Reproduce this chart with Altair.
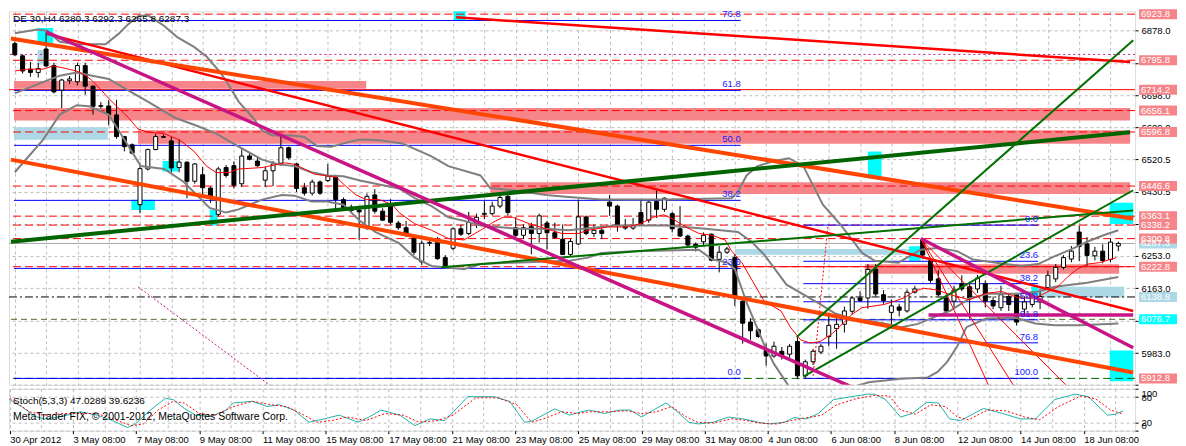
import json
import altair as alt
import pandas as pd

FONT = "Liberation Sans"
W, H, HS = 1128, 374, 42
XD = [-0.1, 142.5]
YD = [5895.2, 6931.5]

# ---------------- candles (H4 bars, index 0..141) ----------------
OPEN = [6842,6808,6771,6762,6827,6781,6713,6739,6736,6781, 6724,6668,6669,6644,6584,6561,6395,6494,6548,6582,
        6572,6498,6513,6460,6478,6441,6368,6498,6503,6453, 6530,6516,6463,6489,6510,6553,6508,6442,6427,6458,
        6462,6471,6409,6388,6380,6333,6422,6377,6391,6344, 6331,6302,6236,6288,6290,6248,6274,6328,6315,6341,
        6368,6370,6391,6418,6331,6310,6334,6315,6344,6317, 6299,6257,6286,6361,6315,6324,6402,6391,6337,6330,
        6373,6352,6404,6382,6370,6328,6308,6285,6292,6313, 6243,6263,6248,6127,6069,6048,5990,5975,5988,5980,
        6015,5920,5959,5986,6029,6051,6063,6099,6136,6136, 6216,6145,6096,6111,6100,6152,6297,6239,6189,6136,
        6127,6176,6167,6161,6176,6129,6109,6140,6145,6105, 6118,6125,6165,6189,6221,6244,6319,6286,6253,6266,
        6243,6280.3]
HIGH = [6848,6812,6791,6788,6873,6789,6744,6752,6789,6789, 6726,6680,6686,6686,6586,6565,6503,6550,6592,6590,
        6583,6576,6515,6510,6500,6445,6500,6505,6515,6549, 6538,6525,6500,6516,6588,6556,6511,6455,6465,6462,
        6508,6478,6415,6395,6390,6426,6438,6385,6410,6350, 6350,6305,6295,6296,6305,6255,6332,6340,6375,6370,
        6405,6403,6425,6428,6360,6340,6345,6370,6350,6345, 6340,6300,6409,6365,6340,6335,6422,6395,6355,6358,
        6410,6405,6435,6415,6375,6391,6312,6290,6318,6315, 6280,6278,6258,6140,6080,6052,6010,6015,6000,6008,
        6029,5965,5995,6008,6092,6085,6112,6140,6155,6230, 6230,6158,6132,6120,6160,6170,6301,6248,6213,6145,
        6170,6199,6175,6200,6185,6140,6170,6150,6150,6140, 6150,6160,6212,6230,6255,6280,6337,6305,6278,6285,
        6300,6292.3]
LOW = [6808,6759,6750,6748,6778,6704,6663,6730,6726,6700, 6645,6662,6615,6578,6543,6535,6371,6490,6546,6580,
       6484,6485,6413,6453,6420,6400,6362,6470,6440,6444, 6518,6500,6444,6447,6503,6520,6430,6420,6420,6422,
       6458,6380,6380,6370,6297,6325,6370,6350,6340,6325, 6305,6255,6228,6280,6242,6218,6268,6308,6310,6330,
       6355,6365,6385,6365,6303,6300,6257,6290,6270,6300, 6255,6250,6283,6310,6305,6300,6364,6320,6325,6325,
       6340,6345,6358,6375,6318,6305,6275,6265,6280,6238, 6207,6258,6114,6009,6020,6025,5948,5970,5965,5970,
       5912,5912,5950,5980,6002,5995,6040,6090,6125,6106, 6140,6120,6057,6085,6095,6148,6245,6178,6140,6090,
       6110,6155,6079,6150,6110,6105,6100,6100,6060,6085, 6110,6105,6160,6180,6215,6235,6238,6225,6240,6232,
       6235,6265.8]
CLOSE = [6811,6766,6762,6773,6780,6708,6741,6744,6781,6724, 6668,6670,6645,6584,6556,6538,6495,6548,6584,6584,
         6497,6513,6460,6508,6442,6418,6494,6476,6449,6530, 6521,6503,6489,6508,6553,6525,6440,6427,6458,6427,
         6474,6409,6386,6379,6375,6418,6377,6352,6346,6331, 6315,6263,6288,6290,6245,6225,6328,6313,6346,6360,
         6371,6391,6415,6373,6310,6331,6315,6364,6317,6304, 6257,6293,6361,6315,6324,6315,6391,6337,6330,6337,
         6342,6402,6382,6413,6328,6308,6283,6277,6310,6241, 6263,6272,6136,6066,6045,6029,5975,6002,5977,6002,
         5920,5959,5988,6002,6060,6063,6100,6136,6129,6215, 6147,6129,6114,6102,6152,6161,6255,6185,6145,6100,
         6158,6161,6136,6191,6127,6114,6145,6118,6069,6125, 6140,6140,6199,6221,6248,6266,6279,6254,6266,6240,
         6291,6287.3]

DATES = ['30 Apr 2012','3 May 08:00','7 May 08:00','9 May 08:00','11 May 08:00','15 May 08:00',
         '17 May 08:00','21 May 08:00','23 May 08:00','25 May 08:00','29 May 08:00','31 May 08:00',
         '4 Jun 08:00','6 Jun 08:00','8 Jun 08:00','12 Jun 08:00','14 Jun 08:00','18 Jun 08:00']
PRICE_TICKS = [6878.0, 6788.5, 6698.0, 6609.0, 6520.5, 6430.5, 6341.0, 6253.0, 6163.0, 6073.0, 5983.0, 5895.5]
HIDDEN_TICKS = [6788.5, 6341.0, 6073.0]
STOCH_TICKS = [0, 20, 80, 100]

# ---------------- indicator lines (bar, price) ----------------
BB_UPPER = [(0,6871),(2.9,6881),(4.1,6878),(5.75,6847),(7.9,6840),(11.6,6840),(13.25,6869),(14.5,6896),(15.75,6918),
            (17,6921),(19.1,6891),(20.75,6860),(22.9,6833),(24.5,6806),(26.1,6766),(27,6739),(28.6,6681),(30.4,6637),
            (31.6,6601),(32.9,6587),(35.4,6587),(37,6583),(38.6,6558),(40.4,6556),(42.9,6570),(44.1,6576),(46.6,6574),
            (49.5,6565),(53.25,6529),(55.4,6502),(59.5,6476),(60.75,6441),(63.6,6435),(67.9,6422),(70.4,6417),(74.9,6409),
            (83.25,6409),(91.6,6413),(92.4,6431),(93.5,6476),(94.9,6502),(97,6516),(98.9,6524),(100.75,6502),(103.25,6395),
            (105.4,6342),(107,6297),(108.25,6261),(109.9,6239),(112.9,6234),(115.75,6270),(117.9,6275),(120.4,6266),
            (122.4,6243),(126.6,6230),(128.6,6225),(130.75,6230),(132.9,6252),(134.9,6270),(137,6292),(139.1,6310),(141,6324)]
BB_MIDDLE = [(0,6704),(3.6,6735),(5.75,6753),(7.9,6762),(9.9,6753),(12,6744),(14.1,6717),(17,6681),(20.4,6637),(23.25,6614),
             (25.75,6592),(28.6,6556),(31.6,6520),(33.6,6507),(35.75,6502),(37.9,6485),(39.9,6476),(42,6474),(44.1,6462),
             (46.1,6453),(49.1,6440),(51.1,6413),(53.25,6391),(55.4,6360),(57.4,6350),(59.5,6337),(61.6,6333),(64.5,6328),
             (67.9,6328),(70.75,6324),(74.9,6333),(77,6337),(83.25,6337),(88.25,6328),(92.4,6319),(94.1,6293),(95.75,6256),
             (98.6,6173),(102.9,6119),(104.9,6092),(107,6079),(111.1,6065),(113.25,6055),(115.4,6064),(117.9,6087),
             (119.5,6100),(122,6135),(124.5,6148),(128.25,6148),(130.75,6154),(132.9,6167),(137,6178),(141,6194)]
BB_LOWER = [(0,6485),(3.6,6575),(5.75,6645),(7.9,6671),(9.5,6668),(12,6645),(16.1,6502),(19.1,6494),(21.6,6458),(24.9,6386),
            (27,6373),(28.6,6382),(31.6,6409),(34.1,6422),(35.75,6420),(37.9,6404),(39.9,6404),(42,6395),(43.25,6368),
            (44.1,6350),(46.1,6319),(49.1,6288),(51.1,6248),(53.25,6225),(57.4,6216),(59.5,6230),(63.6,6234),(70.75,6239),
            (73.25,6248),(74.9,6261),(79.1,6266),(87.4,6270),(89.1,6243),(91.1,6234),(92,6216),(93.6,6118),(95.75,6006),
            (97,5953),(98.9,5891),(102.9,5860),(105,5864),(107,5888),(109.1,5902),(113.25,5912),(116.6,5915),(117.9,5931),
            (119.1,5958),(120.4,6001),(121.6,6055),(124.1,6079),(127.9,6081),(130.4,6065),(132.9,6060),(136.1,6060),(141,6065)]
MA_FAST = [(0,6766),(1.6,6771),(3.6,6771),(4.9,6780),(6.1,6775),(7.9,6766),(9.1,6753),(9.9,6739),(11.1,6712),(12,6690),
           (13.25,6663),(14.5,6637),(15.75,6605),(17,6596),(19.1,6592),(21.1,6574),(22.9,6543),(24.5,6502),(25.75,6484),
           (27.4,6484),(28.6,6494),(31.6,6498),(34.5,6511),(35.75,6507),(37,6494),(38.25,6480),(41.1,6471),(42.4,6444),
           (43.6,6422),(44.9,6409),(46.6,6409),(48.25,6395),(49.1,6373),(51.1,6342),(53.25,6324),(55.4,6301),(57.4,6297),
           (59.5,6324),(61.1,6346),(62.4,6360),(63.6,6360),(65.75,6342),(67.9,6328),(69.9,6315),(72,6315),(73.25,6324),
           (75.75,6333),(78.25,6333),(79.9,6342),(81.6,6360),(82.9,6367),(84.1,6355),(85.75,6333),(87.4,6315),(89.1,6310),
           (90.75,6297),(91.6,6266),(92.9,6234),(94.1,6189),(95.75,6127),(97.9,6100),(99.1,6055),(100.4,6020),(101.6,6011),
           (102.9,6015),(104.5,6038),(105.75,6064),(107,6091),(108.25,6109),(111.1,6118),(112.4,6127),(113.6,6136),
           (114.9,6154),(116.1,6163),(117.9,6158),(119.5,6145),(122,6131),(124.1,6149),(126.1,6154),(128.25,6136),
           (130.4,6136),(131.6,6149),(133.25,6167),(134.5,6194),(135.75,6216),(137,6230),(138.6,6234),(140.75,6248)]

# ---------------- drawn trend lines (bar, price) ----------------
RED_TRENDS = {"a1": [(4.1,6869),(142.9,6100)], "a2": [(56.4,6915),(142.5,6791)]}
ORANGE_TRENDS = {"b1": [(-0.5,6856),(142.9,6356)], "b2": [(-0.5,6520),(142.9,5929)]}
GREEN_THICK = {"c1": [(-0.5,6292),(142.5,6596)]}
GREEN_MED = {"c2": [(54.5,6221),(142.9,6379)], "c3a": [(99.9,6028),(142.9,6851)], "c3b": [(100.75,5918),(142.9,6435)]}
MAGENTA_TRENDS = {"d1": [(4,6875),(107.25,5886)], "d2": [(115.75,6301),(142.9,5998)], "d3": [(116.75,6089),(142.9,6089)]}
RED_FAN = {"f1": [(115.9,6296),(124.5,5890)], "f2": [(115.9,6296),(127.7,5890)], "f3": [(115.9,6296),(134.5,5890)]}
RED_DOTTED = {"g1": [(102,5920),(103.9,6338)]}
MAGENTA_DOTTED = {"h1": [(15.75,6167),(33.75,5875)]}

# ---------------- horizontal levels ----------------
RED_DASHED_LEVELS = [6923.8, 6795.8, 6656.1, 6596.8, 6446.6, 6363.1, 6338.2, 6300.8, 6222.8]
RED_SOLID_LEVELS = [6714.2]
CURRENT_PRICE = [6287.3]
DASHDOT_LEVELS = [6138.8]
OLIVE_LEVELS = [6076.7]
GREEN_LEVELS = [5912.8]
MAGENTA_DOT_LEVELS = [6812.0]
RED_SOLID_SEG = [(91.6, 142.5, 6222.8)]

# Fibonacci retracements: (start bar, end bar, level price, label)
FIB1 = [(-0.1, 92.75, 5912.8, "0.0"), (-0.1, 92.75, 6218.1, "23.6"), (-0.1, 92.75, 6406.9, "38.2"),
        (-0.1, 92.75, 6559.6, "50.0"), (-0.1, 92.75, 6712.2, "61.8"), (-0.1, 92.75, 6906.2, "76.8")]
FIB2 = [(100.75, 130.75, 6338.2, "0.0"), (100.75, 130.75, 6237.8, "23.6"), (100.75, 130.75, 6175.7, "38.2"),
        (100.75, 130.75, 6125.5, "50.0"), (100.75, 130.75, 6075.3, "61.8"), (100.75, 130.75, 6011.5, "76.8"),
        (100.75, 130.75, 5912.8, "100.0")]

# ---------------- rectangles: (bar1, bar2, price1, price2, kind) ----------------
RECTS = [(-0.1,44.9,6717,6738.5,"pink"), (-0.1,142.5,6628.5,6663.4,"pink"), (15.75,142.5,6564.2,6601.7,"pink"),
         (60.75,142.5,6424.7,6456.9,"pink"), (108.6,141.1,6202.9,6229.7,"pink"),
         (-0.1,11.9,6574.9,6609.8,"lightblue"), (2.9,3.6,6784.1,6824.3,"lightblue"),
         (92,114.9,6255.7,6271.8,"lightblue"), (129.9,141.75,6137.7,6167.2,"lightblue"),
         (2.9,4.9,6842.3,6885.2,"cyan"), (14.9,17.9,6379.9,6408.6,"cyan"), (18.9,20.9,6487.2,6515.9,"cyan"),
         (24.9,25.9,6337,6381.8,"cyan"), (56.1,57.6,6907.5,6935,"cyan"), (109,110.75,6467.6,6542.7,"cyan"),
         (114.25,115.75,6239.6,6279.9,"cyan"), (139.9,142.9,6341.6,6400.6,"cyan"),
         (139.9,142.9,5905,5990.2,"cyan"), (129.9,130.75,6137.7,6167.2,"cyan")]

# ---------------- right-side price labels ----------------
PRICE_LABELS = [(6923.8,"res"),(6795.8,"res"),(6714.2,"res"),(6656.1,"res"),(6596.8,"res"),(6446.6,"res"),
                (6363.1,"res"),(6338.2,"res"),(6287.3,"cur"),(6300.8,"res"),(6222.8,"res"),(6138.8,"cur"),
                (6076.7,"olive"),(5912.8,"green")]

# ---------------- stochastic (bar, value) ----------------
STOCH_MAIN = [(-0.4,78),(1.5,57.5),(3.2,34),(4.4,28),(6.3,32.5),(9,45),(11.1,36.7),(13,24),(14.9,7.5),(15.9,16),
              (17.8,49),(19.7,77),(20.7,74),(22.1,53),(23.5,37),(25.5,34),(27.4,49),(28.3,66),(30.7,70),(32.6,57.5),
              (34.1,62),(36,49),(37.9,20),(39.8,28),(41.7,37),(44.1,20),(45.5,32.5),(47,49),(49.4,37),(51.3,12),
              (53.2,28),(55.1,24),(58,81),(61.3,81),(63.3,70),(65.2,20),(66.1,22.5),(69,52),(70.9,37),(72.3,45),
              (73.4,49),(75.3,41),(77.2,49),(78.6,49),(80,32.5),(81.5,49),(83.1,66),(84.3,49),(86,20),(87.2,16),
              (89.1,20),(91,32.5),(92.9,28),(94.8,20),(96.2,16),(98.1,20),(99.3,31),(100.9,28),(102.4,41),(104.3,74),
              (106.6,81),(108.6,87),(109.5,87),(110.9,74),(112.8,32.5),(114.3,41),(116.1,67.5),(117.6,66),(119,28),
              (120.4,24),(123.3,53),(125.7,41),(128,28),(129.9,28),(132.3,74),(134.9,87),(136.6,81),(139,37),(140,39),(141,47)]
STOCH_SIGNAL = [(-0.4,82.5),(2.5,45),(4.4,36.7),(6.8,40.8),(9.2,40.8),(11.1,40.8),(13,28.3),(15.4,11.7),(16.9,15.8),
                (18.8,49.2),(20.7,70),(22.1,65.8),(24,40.8),(26,36.7),(28.3,57.5),(30.7,70),(33.1,61.7),(35,57.5),
                (36.9,40.8),(38.9,20),(40.8,24.2),(42.7,32.5),(45.1,24.2),(47.5,40.8),(49.9,36.7),(51.8,20),(54.2,24.2),
                (56.1,36.7),(59,78.3),(61.8,78.3),(64.2,61.7),(66.1,20),(67.6,28.3),(69.9,45),(71.9,40.8),(73.4,45),
                (75.7,45),(78.1,47.5),(80,40.8),(81.9,45),(83.8,57.5),(85.7,32.5),(87.1,20),(89.1,18.3),(91.4,28.3),
                (93.3,24.2),(95.2,17.5),(97.1,15.8),(99,24.2),(100.9,30.8),(102.8,36.7),(104.7,61.7),(107.1,75.8),
                (109.5,84.2),(111.4,82.5),(112.8,49.2),(114.7,39.2),(116.6,61.7),(118.5,57.5),(120,32.5),(121.4,25.8),
                (123.8,49.2),(126.1,47.5),(128.5,32.5),(130.4,25.8),(132.8,57.5),(135.6,82.5),(137.5,75.8),(139.4,49.2),(141,39.6)]

HEADER = "DE 30,H4  6280.3 6292.3 6265.8 6287.3"
STOCH_TITLE = "Stoch(5,3,3) 47.0289 39.6236"
COPYRIGHT = "MetaTrader FIX, \u00a9 2001-2012, MetaQuotes Software Corp."

# ---------------- build frames ----------------
def lines_df(d):
    rows = []
    for name, pts in d.items():
        for i, (b, p) in enumerate(pts):
            rows.append({"id": name, "i": i, "b": b, "p": p})
    return pd.DataFrame(rows)

candles = pd.DataFrame({"b": list(range(len(OPEN))), "o": OPEN, "h": HIGH, "l": LOW, "c": CLOSE})
rects = pd.DataFrame(RECTS, columns=["b1", "b2", "p1", "p2", "kind"])
fib = pd.DataFrame(FIB1 + FIB2, columns=["b1", "b2", "p", "t"])
labels = pd.DataFrame(PRICE_LABELS, columns=["p", "kind"])
labels["t"] = labels["p"].map(lambda v: f"{v:.1f}")

GRID = "#bdbdbd"
xs = alt.Scale(domain=XD, nice=False, zero=False)
ys = alt.Scale(domain=YD, nice=False, zero=False)
xax = alt.Axis(values=list(range(0, 143, 4)), grid=True, gridColor=GRID, gridDash=[3, 3], labels=False,
               ticks=False, domain=False, title=None, minExtent=0, maxExtent=0, offset=0)
hidden_expr = "indexof(" + json.dumps(HIDDEN_TICKS) + ", datum.value) >= 0 ? '' : format(datum.value, '.1f')"
yax = alt.Axis(orient="right", values=PRICE_TICKS, labelExpr=hidden_expr, grid=True, gridColor=GRID,
               gridDash=[3, 3], labelFont=FONT, labelFontSize=9.5, labelColor="black", tickColor="black",
               tickSize=3, domain=False, title=None, labelPadding=3, labelFlush=True, labelOverlap=False)

def X(f):
    return alt.X(f, type="quantitative", scale=xs, axis=xax)

def Y(f):
    return alt.Y(f, type="quantitative", scale=ys, axis=yax)

def trend(d, color, width, dash=None):
    kw = dict(color=color, strokeWidth=width, clip=True)
    if dash:
        kw["strokeDash"] = dash
    return alt.Chart(lines_df(d)).mark_line(**kw).encode(x=X("b"), y=Y("p"), detail="id:N", order="i:Q")

def hlevels(vals, color, width, dash=None):
    kw = dict(color=color, strokeWidth=width, clip=True)
    if dash:
        kw["strokeDash"] = dash
    return alt.Chart(pd.DataFrame({"p": vals})).mark_rule(**kw).encode(y=Y("p"))

rect_layer = alt.Chart(rects).mark_rect(clip=True).encode(
    x=X("b1"), x2="b2", y=Y("p1"), y2="p2",
    color=alt.Color("kind:N", scale=alt.Scale(domain=["pink", "lightblue", "cyan"],
                                              range=["#F6858A", "#ADD8E6", "#00FFFF"]), legend=None))

fib_lines = alt.Chart(fib).mark_rule(color="#0000FF", strokeWidth=1, clip=True).encode(x=X("b1"), x2="b2", y=Y("p"))
fib_text = alt.Chart(fib).mark_text(align="right", baseline="bottom", dy=-1, color="#2020FF",
                                    font=FONT, fontSize=9.5).encode(x=X("b2"), y=Y("p"), text="t:N")

seg = pd.DataFrame(RED_SOLID_SEG, columns=["b1", "b2", "p"])
red_seg = alt.Chart(seg).mark_rule(color="#FF0000", strokeWidth=1, clip=True).encode(x=X("b1"), x2="b2", y=Y("p"))

bands = trend({"u": BB_UPPER, "m": BB_MIDDLE, "l": BB_LOWER}, "#7f7f7f", 2)
ma = trend({"ma": MA_FAST}, "#FF0000", 1)

wicks = alt.Chart(candles).mark_rule(color="black", strokeWidth=1, clip=True).encode(x=X("b"), y=Y("l"), y2="h")
bodies = alt.Chart(candles).mark_bar(size=4, stroke="black", strokeWidth=1, clip=True).encode(
    x=X("b"), y=Y("o"), y2="c",
    fill=alt.condition("datum.c >= datum.o", alt.value("white"), alt.value("black")))

lab_color = alt.Scale(domain=["res", "cur", "olive", "green"], range=["#FF0000", "#000000", "#556B2F", "#006400"])
lab_box = alt.Chart(labels).mark_tick(orient="horizontal", size=38, thickness=10, opacity=1).encode(
    x=alt.value(W + 23), y=Y("p"), color=alt.Color("kind:N", scale=lab_color, legend=None))
lab_txt = alt.Chart(labels).mark_text(align="left", baseline="middle", color="white", font=FONT,
                                      fontSize=9.5).encode(x=alt.value(W + 6), y=Y("p"), text="t:N")

header = alt.Chart(pd.DataFrame({"t": [HEADER]})).mark_text(
    align="left", baseline="middle", font=FONT, fontSize=10, color="black").encode(
    x=alt.value(4), y=alt.value(8), text="t:N")

main = alt.layer(
    rect_layer,
    hlevels(RED_DASHED_LEVELS, "#FF0000", 1, [8, 4]),
    hlevels(RED_SOLID_LEVELS, "#FF0000", 1),
    hlevels(CURRENT_PRICE, "#A9A9A9", 1),
    hlevels(DASHDOT_LEVELS, "#000000", 1, [8, 3, 2, 3]),
    hlevels(OLIVE_LEVELS, "#556B2F", 1, [6, 4]),
    hlevels(GREEN_LEVELS, "#006400", 1, [8, 4]),
    hlevels(MAGENTA_DOT_LEVELS, "#C71585", 1, [2, 3]),
    fib_lines,
    red_seg,
    wicks,
    bodies,
    bands,
    ma,
    trend(RED_DOTTED, "#FF0000", 1, [2, 2]),
    trend(MAGENTA_DOTTED, "#C71585", 1, [2, 2]),
    trend(RED_FAN, "#FF0000", 1),
    trend(RED_TRENDS, "#FF0000", 2.5),
    trend(ORANGE_TRENDS, "#FF4500", 4),
    trend(GREEN_THICK, "#006400", 4),
    trend(GREEN_MED, "#007000", 2),
    trend(MAGENTA_TRENDS, "#C71585", 3.5),
    fib_text,
    header,
    lab_box,
    lab_txt,
).properties(width=W, height=H)

# ---------------- stochastic panel ----------------
ss = alt.Scale(domain=[0, 100], nice=False, zero=False)
label_expr = "datum.value % 8 == 0 ? " + json.dumps(DATES) + "[datum.value / 8] : ''"
sxax = alt.Axis(values=list(range(0, 143, 4)), grid=True, gridColor=GRID, gridDash=[3, 3], labelExpr=label_expr,
                labelAlign="left", labelFont=FONT, labelFontSize=9.5, labelColor="black", labelPadding=1,
                labelOverlap=False, labelFlush=False, tickSize=3, tickColor="black",
                tickOpacity={"condition": {"test": "datum.value % 8 == 0", "value": 1}, "value": 0},
                domain=False, title=None)
syax = alt.Axis(orient="right", values=STOCH_TICKS, grid=True, gridColor=GRID, gridDash=[3, 3],
                labelFont=FONT, labelFontSize=9.5, labelColor="black", tickColor="black", tickSize=3,
                domain=False, title=None, labelPadding=3, labelFlush=True, labelOverlap=False)

def SX(f):
    return alt.X(f, type="quantitative", scale=xs, axis=sxax)

def SY(f):
    return alt.Y(f, type="quantitative", scale=ss, axis=syax)

st_main = alt.Chart(lines_df({"k": STOCH_MAIN})).mark_line(color="#20B2AA", strokeWidth=1, clip=True).encode(
    x=SX("b"), y=SY("p"), order="i:Q")
st_sig = alt.Chart(lines_df({"d": STOCH_SIGNAL})).mark_line(color="#FF0000", strokeWidth=1, strokeDash=[2, 2],
                                                           clip=True).encode(x=SX("b"), y=SY("p"), order="i:Q")
st_title = alt.Chart(pd.DataFrame({"t": [STOCH_TITLE]})).mark_text(
    align="left", baseline="middle", font=FONT, fontSize=10, color="black").encode(
    x=alt.value(4), y=alt.value(12), text="t:N")
st_copy = alt.Chart(pd.DataFrame({"t": [COPYRIGHT]})).mark_text(
    align="left", baseline="middle", font=FONT, fontSize=10.5, color="black").encode(
    x=alt.value(4), y=alt.value(28), text="t:N")

stoch = alt.layer(st_main, st_sig, st_title, st_copy).properties(width=W, height=HS)

chart = alt.vconcat(main, stoch, spacing=2).properties(padding=0).configure_view(
    stroke="black", strokeWidth=1).configure(font=FONT)

chart.save("out.html", embed_options={"renderer": "svg", "actions": False})
